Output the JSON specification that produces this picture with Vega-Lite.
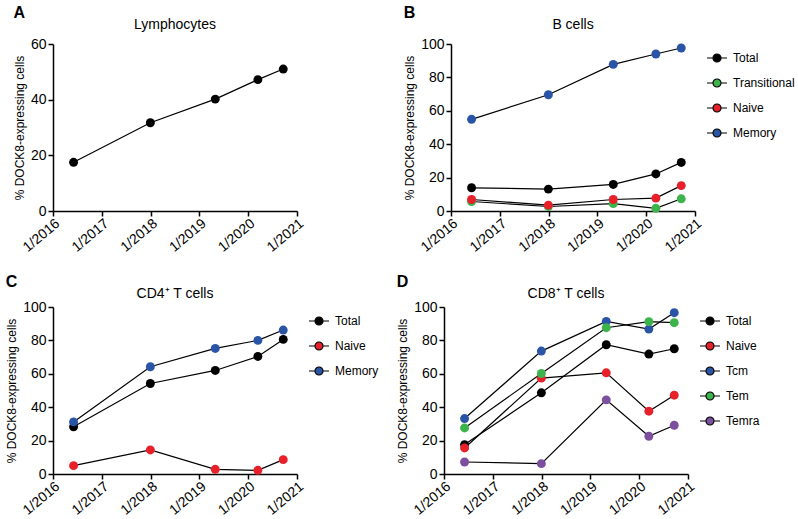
{
  "$schema": "https://vega.github.io/schema/vega-lite/v6.json",
  "background": "white",
  "padding": {"left": 5, "top": 5, "right": 0, "bottom": 0},
  "config": {
    "font": "Liberation Sans",
    "view": {"stroke": null},
    "axis": {"domainColor": "black", "domainWidth": 1.5, "tickColor": "black", "tickWidth": 1.5, "tickSize": 5, "labelColor": "black", "labelFontSize": 14, "labelPadding": 2, "labelOverlap": false, "labelBound": false, "titleColor": "black", "titleFontSize": 12, "titleFontWeight": "normal", "grid": false},
    "axisX": {"labelAngle": -40, "labelPadding": 0},
    "title": {"fontSize": 14, "fontWeight": "normal", "color": "black", "offset": 5},
    "legend": {"labelFontSize": 12, "labelColor": "black", "rowPadding": 9, "offset": -1, "padding": 5, "labelOffset": 7, "symbolStrokeColor": "black", "symbolStrokeWidth": 1.2}
  },
  "datasets": {
    "lymph": [
      {"date": "2016-06-03", "series": "Total", "value": 17.5},
      {"date": "2017-12-30", "series": "Total", "value": 31.7},
      {"date": "2019-04-30", "series": "Total", "value": 40.2},
      {"date": "2020-03-14", "series": "Total", "value": 47.2},
      {"date": "2020-09-20", "series": "Total", "value": 51.0}
    ],
    "bcells": [
      {"date": "2016-06-03", "series": "Total", "value": 13.9},
      {"date": "2017-12-30", "series": "Total", "value": 13.1},
      {"date": "2019-04-30", "series": "Total", "value": 15.9},
      {"date": "2020-03-14", "series": "Total", "value": 22.2},
      {"date": "2020-09-20", "series": "Total", "value": 29.1},
      {"date": "2016-06-03", "series": "Transitional", "value": 5.7},
      {"date": "2017-12-30", "series": "Transitional", "value": 2.7},
      {"date": "2019-04-30", "series": "Transitional", "value": 4.4},
      {"date": "2020-03-14", "series": "Transitional", "value": 1.6},
      {"date": "2020-09-20", "series": "Transitional", "value": 7.3},
      {"date": "2016-06-03", "series": "Naive", "value": 6.9},
      {"date": "2017-12-30", "series": "Naive", "value": 3.5},
      {"date": "2019-04-30", "series": "Naive", "value": 6.9},
      {"date": "2020-03-14", "series": "Naive", "value": 7.7},
      {"date": "2020-09-20", "series": "Naive", "value": 15.2},
      {"date": "2016-06-03", "series": "Memory", "value": 54.9},
      {"date": "2017-12-30", "series": "Memory", "value": 69.6},
      {"date": "2019-04-30", "series": "Memory", "value": 87.8},
      {"date": "2020-03-14", "series": "Memory", "value": 94.0},
      {"date": "2020-09-20", "series": "Memory", "value": 97.6}
    ],
    "cd4": [
      {"date": "2016-06-03", "series": "Total", "value": 28.3},
      {"date": "2017-12-30", "series": "Total", "value": 54.2},
      {"date": "2019-04-30", "series": "Total", "value": 62.0},
      {"date": "2020-03-14", "series": "Total", "value": 70.4},
      {"date": "2020-09-20", "series": "Total", "value": 80.6},
      {"date": "2016-06-03", "series": "Naive", "value": 5.0},
      {"date": "2017-12-30", "series": "Naive", "value": 14.4},
      {"date": "2019-04-30", "series": "Naive", "value": 2.8},
      {"date": "2020-03-14", "series": "Naive", "value": 2.2},
      {"date": "2020-09-20", "series": "Naive", "value": 8.6},
      {"date": "2016-06-03", "series": "Memory", "value": 31.2},
      {"date": "2017-12-30", "series": "Memory", "value": 64.2},
      {"date": "2019-04-30", "series": "Memory", "value": 75.2},
      {"date": "2020-03-14", "series": "Memory", "value": 80.0},
      {"date": "2020-09-20", "series": "Memory", "value": 86.2}
    ],
    "cd8": [
      {"date": "2016-06-03", "series": "Total", "value": 17.6},
      {"date": "2017-12-30", "series": "Total", "value": 48.6},
      {"date": "2019-04-30", "series": "Total", "value": 77.4},
      {"date": "2020-03-14", "series": "Total", "value": 71.8},
      {"date": "2020-09-20", "series": "Total", "value": 75.0},
      {"date": "2016-06-03", "series": "Naive", "value": 15.6},
      {"date": "2017-12-30", "series": "Naive", "value": 57.4},
      {"date": "2019-04-30", "series": "Naive", "value": 60.6},
      {"date": "2020-03-14", "series": "Naive", "value": 37.6},
      {"date": "2020-09-20", "series": "Naive", "value": 47.2},
      {"date": "2016-06-03", "series": "Tcm", "value": 33.2},
      {"date": "2017-12-30", "series": "Tcm", "value": 73.6},
      {"date": "2019-04-30", "series": "Tcm", "value": 91.4},
      {"date": "2020-03-14", "series": "Tcm", "value": 86.8},
      {"date": "2020-09-20", "series": "Tcm", "value": 96.6},
      {"date": "2016-06-03", "series": "Tem", "value": 27.6},
      {"date": "2017-12-30", "series": "Tem", "value": 60.2},
      {"date": "2019-04-30", "series": "Tem", "value": 87.6},
      {"date": "2020-03-14", "series": "Tem", "value": 91.2},
      {"date": "2020-09-20", "series": "Tem", "value": 90.6},
      {"date": "2016-06-03", "series": "Temra", "value": 7.2},
      {"date": "2017-12-30", "series": "Temra", "value": 6.2},
      {"date": "2019-04-30", "series": "Temra", "value": 44.4},
      {"date": "2020-03-14", "series": "Temra", "value": 22.6},
      {"date": "2020-09-20", "series": "Temra", "value": 29.2}
    ]
  },
  "resolve": {"scale": {"color": "independent", "y": "independent", "x": "independent"}, "legend": {"color": "independent"}},
  "spacing": 19,
  "vconcat": [
    {
      "resolve": {"scale": {"color": "independent", "y": "independent", "x": "independent"}, "legend": {"color": "independent"}},
      "hconcat": [
        {
          "title": {"text": "A", "anchor": "start", "frame": "bounds", "fontSize": 16, "fontWeight": "bold", "offset": -3},
          "vconcat": [
            {
              "title": {"text": "Lymphocytes"},
              "width": 244, "height": 167,
              "data": {"name": "lymph"},
              "layer": [
                {"mark": {"type": "line", "color": "black", "strokeWidth": 1.2},
                 "encoding": {
                   "x": {"field": "date", "type": "temporal", "scale": {"type": "utc", "domain": [{"year": 2016, "month": 1, "date": 1, "utc": true}, {"year": 2021, "month": 1, "date": 1, "utc": true}]}, "axis": {"title": null, "format": "%-m/%Y", "values": [{"year": 2016, "month": 1, "date": 1, "utc": true}, {"year": 2017, "month": 1, "date": 1, "utc": true}, {"year": 2018, "month": 1, "date": 1, "utc": true}, {"year": 2019, "month": 1, "date": 1, "utc": true}, {"year": 2020, "month": 1, "date": 1, "utc": true}, {"year": 2021, "month": 1, "date": 1, "utc": true}]}},
                   "y": {"field": "value", "type": "quantitative", "scale": {"domain": [0, 60], "nice": false}, "axis": {"title": "% DOCK8-expressing cells", "tickCount": 4, "labelOverlap": false}},
                   "detail": {"field": "series"}
                 }},
                {"mark": {"type": "circle", "size": 80, "opacity": 1, "color": "black"},
                 "encoding": {
                   "x": {"field": "date", "type": "temporal"},
                   "y": {"field": "value", "type": "quantitative"}
                 }}
              ]
            }
          ]
        },
        {
          "title": {"text": "B", "anchor": "start", "frame": "bounds", "fontSize": 16, "fontWeight": "bold", "offset": -3},
          "vconcat": [
            {
              "title": {"text": "B cells"},
              "width": 244, "height": 167,
              "data": {"name": "bcells"},
              "layer": [
                {"mark": {"type": "line", "color": "black", "strokeWidth": 1.2},
                 "encoding": {
                   "x": {"field": "date", "type": "temporal", "scale": {"type": "utc", "domain": [{"year": 2016, "month": 1, "date": 1, "utc": true}, {"year": 2021, "month": 1, "date": 1, "utc": true}]}, "axis": {"title": null, "format": "%-m/%Y", "values": [{"year": 2016, "month": 1, "date": 1, "utc": true}, {"year": 2017, "month": 1, "date": 1, "utc": true}, {"year": 2018, "month": 1, "date": 1, "utc": true}, {"year": 2019, "month": 1, "date": 1, "utc": true}, {"year": 2020, "month": 1, "date": 1, "utc": true}, {"year": 2021, "month": 1, "date": 1, "utc": true}]}},
                   "y": {"field": "value", "type": "quantitative", "scale": {"domain": [0, 100], "nice": false}, "axis": {"title": "% DOCK8-expressing cells", "tickCount": 6, "labelOverlap": false}},
                   "detail": {"field": "series"}
                 }},
                {"mark": {"type": "point", "filled": true, "shape": "circle", "size": 80, "opacity": 1},
                 "encoding": {
                   "x": {"field": "date", "type": "temporal"},
                   "y": {"field": "value", "type": "quantitative"},
                   "color": {"field": "series", "type": "nominal", "scale": {"domain": ["Total", "Transitional", "Naive", "Memory"], "range": ["#000000", "#3cb44b", "#e8202a", "#2a55a6"]},
                     "legend": {"title": null, "symbolType": "M-1.25,0L-0.5,0M0.5,0L1.25,0M0.5,0A0.5,0.5,0,1,1,-0.5,0A0.5,0.5,0,1,1,0.5,0Z", "symbolSize": 256, "symbolStrokeColor": "black", "symbolStrokeWidth": 1.2, "symbolOpacity": 1,
                       "encode": {"symbols": {"update": {"shape": {"value": "M-1.25,0L-0.5,0M0.5,0L1.25,0M0.5,0A0.5,0.5,0,1,1,-0.5,0A0.5,0.5,0,1,1,0.5,0Z"}, "stroke": {"value": "black"}}}}}}
                 }}
              ]
            }
          ]
        }
      ],
      "spacing": 97
    },
    {
      "resolve": {"scale": {"color": "independent", "y": "independent", "x": "independent"}, "legend": {"color": "independent"}},
      "hconcat": [
        {
          "title": {"text": "C", "anchor": "start", "frame": "bounds", "fontSize": 16, "fontWeight": "bold", "offset": -3},
          "vconcat": [
            {
              "title": {"text": "CD4⁺ T cells", "offset": -1},
              "width": 244, "height": 167,
              "data": {"name": "cd4"},
              "layer": [
                {"mark": {"type": "line", "color": "black", "strokeWidth": 1.2},
                 "encoding": {
                   "x": {"field": "date", "type": "temporal", "scale": {"type": "utc", "domain": [{"year": 2016, "month": 1, "date": 1, "utc": true}, {"year": 2021, "month": 1, "date": 1, "utc": true}]}, "axis": {"title": null, "format": "%-m/%Y", "values": [{"year": 2016, "month": 1, "date": 1, "utc": true}, {"year": 2017, "month": 1, "date": 1, "utc": true}, {"year": 2018, "month": 1, "date": 1, "utc": true}, {"year": 2019, "month": 1, "date": 1, "utc": true}, {"year": 2020, "month": 1, "date": 1, "utc": true}, {"year": 2021, "month": 1, "date": 1, "utc": true}]}},
                   "y": {"field": "value", "type": "quantitative", "scale": {"domain": [0, 100], "nice": false}, "axis": {"title": "% DOCK8-expressing cells", "tickCount": 6, "labelOverlap": false}},
                   "detail": {"field": "series"}
                 }},
                {"mark": {"type": "point", "filled": true, "shape": "circle", "size": 80, "opacity": 1},
                 "encoding": {
                   "x": {"field": "date", "type": "temporal"},
                   "y": {"field": "value", "type": "quantitative"},
                   "color": {"field": "series", "type": "nominal", "scale": {"domain": ["Total", "Naive", "Memory"], "range": ["#000000", "#e8202a", "#2a55a6"]},
                     "legend": {"title": null, "symbolType": "M-1.25,0L-0.5,0M0.5,0L1.25,0M0.5,0A0.5,0.5,0,1,1,-0.5,0A0.5,0.5,0,1,1,0.5,0Z", "symbolSize": 256, "symbolStrokeColor": "black", "symbolStrokeWidth": 1.2, "symbolOpacity": 1,
                       "encode": {"symbols": {"update": {"shape": {"value": "M-1.25,0L-0.5,0M0.5,0L1.25,0M0.5,0A0.5,0.5,0,1,1,-0.5,0A0.5,0.5,0,1,1,0.5,0Z"}, "stroke": {"value": "black"}}}}}}
                 }}
              ]
            }
          ]
        },
        {
          "title": {"text": "D", "anchor": "start", "frame": "bounds", "fontSize": 16, "fontWeight": "bold", "offset": -3},
          "vconcat": [
            {
              "title": {"text": "CD8⁺ T cells", "offset": -1},
              "width": 244, "height": 167,
              "data": {"name": "cd8"},
              "layer": [
                {"mark": {"type": "line", "color": "black", "strokeWidth": 1.2},
                 "encoding": {
                   "x": {"field": "date", "type": "temporal", "scale": {"type": "utc", "domain": [{"year": 2016, "month": 1, "date": 1, "utc": true}, {"year": 2021, "month": 1, "date": 1, "utc": true}]}, "axis": {"title": null, "format": "%-m/%Y", "values": [{"year": 2016, "month": 1, "date": 1, "utc": true}, {"year": 2017, "month": 1, "date": 1, "utc": true}, {"year": 2018, "month": 1, "date": 1, "utc": true}, {"year": 2019, "month": 1, "date": 1, "utc": true}, {"year": 2020, "month": 1, "date": 1, "utc": true}, {"year": 2021, "month": 1, "date": 1, "utc": true}]}},
                   "y": {"field": "value", "type": "quantitative", "scale": {"domain": [0, 100], "nice": false}, "axis": {"title": "% DOCK8-expressing cells", "tickCount": 6, "labelOverlap": false}},
                   "detail": {"field": "series"}
                 }},
                {"mark": {"type": "point", "filled": true, "shape": "circle", "size": 80, "opacity": 1},
                 "encoding": {
                   "x": {"field": "date", "type": "temporal"},
                   "y": {"field": "value", "type": "quantitative"},
                   "color": {"field": "series", "type": "nominal", "scale": {"domain": ["Total", "Naive", "Tcm", "Tem", "Temra"], "range": ["#000000", "#e8202a", "#2a55a6", "#3cb44b", "#7d4f9f"]},
                     "legend": {"title": null, "symbolType": "M-1.25,0L-0.5,0M0.5,0L1.25,0M0.5,0A0.5,0.5,0,1,1,-0.5,0A0.5,0.5,0,1,1,0.5,0Z", "symbolSize": 256, "symbolStrokeColor": "black", "symbolStrokeWidth": 1.2, "symbolOpacity": 1,
                       "encode": {"symbols": {"update": {"shape": {"value": "M-1.25,0L-0.5,0M0.5,0L1.25,0M0.5,0A0.5,0.5,0,1,1,-0.5,0A0.5,0.5,0,1,1,0.5,0Z"}, "stroke": {"value": "black"}}}}}}
                 }}
              ]
            }
          ]
        }
      ],
      "spacing": 12
    }
  ]
}
